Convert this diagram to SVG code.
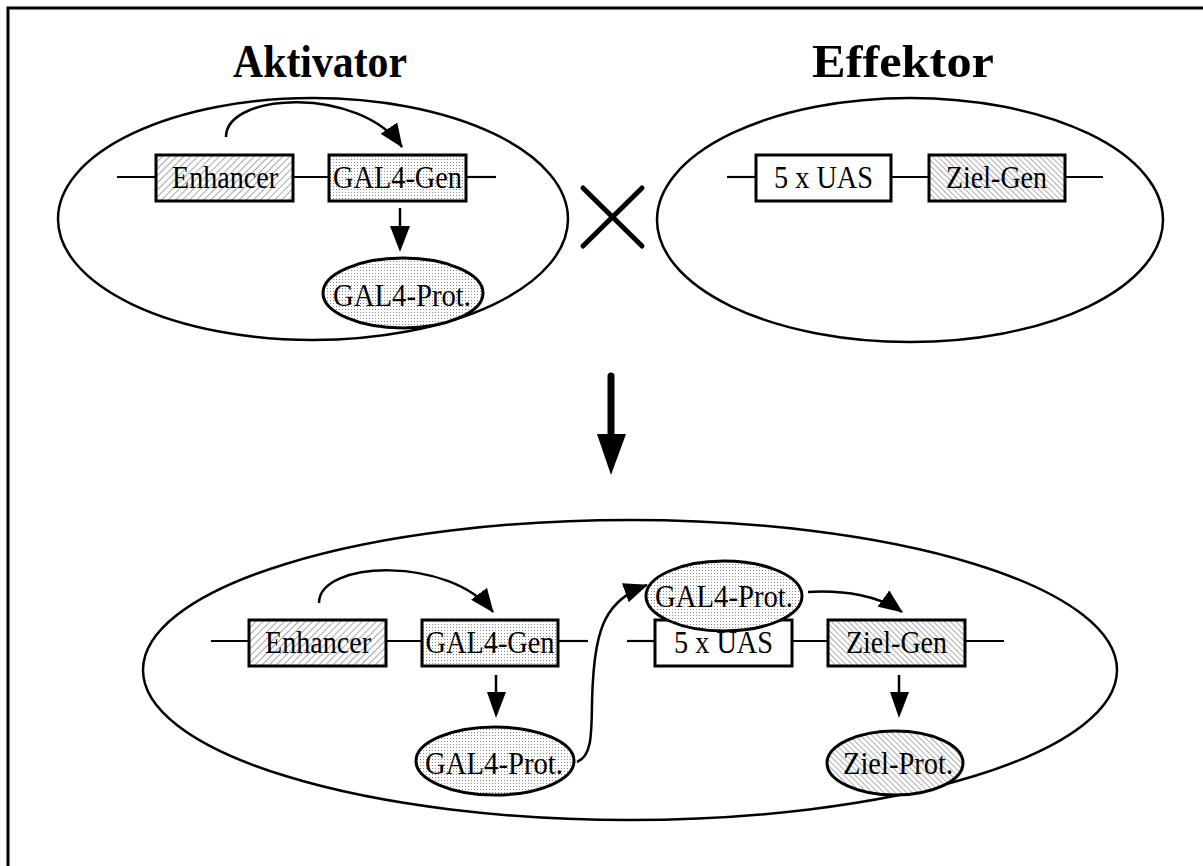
<svg xmlns="http://www.w3.org/2000/svg" width="1203" height="866" viewBox="0 0 1203 866">
<defs>
<pattern id="hatchF" width="5" height="5" patternUnits="userSpaceOnUse" patternTransform="rotate(45)">
<rect width="5" height="5" fill="#fff"/>
<line x1="0" y1="0" x2="0" y2="5" stroke="#777" stroke-width="1.3"/>
</pattern>
<pattern id="hatchB" width="4" height="4" patternUnits="userSpaceOnUse" patternTransform="rotate(-45)">
<rect width="4" height="4" fill="#fff"/>
<line x1="0" y1="0" x2="0" y2="4" stroke="#777" stroke-width="1.2"/>
</pattern>
<pattern id="dots" width="3" height="3" patternUnits="userSpaceOnUse">
<rect width="3" height="3" fill="#fff"/>
<rect x="0" y="0" width="1" height="1" fill="#888"/>
</pattern>
<marker id="ah" viewBox="0 0 24 20" refX="23" refY="10" markerWidth="24" markerHeight="20" markerUnits="userSpaceOnUse" orient="auto">
<path d="M0,0 L24,10 L0,20 z" fill="#000"/>
</marker>
</defs>
<style>
.cell{fill:#fff;stroke:#000;stroke-width:2.5}
.box{stroke:#000;stroke-width:3}
.dna{stroke:#000;stroke-width:2.2;fill:none}
.lbl{font-family:"Liberation Serif","Times New Roman",serif;font-size:32px;text-anchor:middle;fill:#000}
.title{font-family:"Liberation Serif","Times New Roman",serif;font-size:47px;font-weight:bold;text-anchor:middle;fill:#000}
.con{stroke:#000;stroke-width:2.5;fill:none}
</style>
<rect x="8" y="8" width="1220" height="900" fill="#fff" stroke="#000" stroke-width="3"/>

<g id="aktivator">
<ellipse class="cell" cx="313" cy="219" rx="255" ry="121"/>
<text class="title" x="320" y="77" textLength="174" lengthAdjust="spacingAndGlyphs">Aktivator</text>
<line class="dna" x1="117" y1="177" x2="156" y2="177"/>
<line class="dna" x1="293" y1="177" x2="329" y2="177"/>
<line class="dna" x1="466" y1="177" x2="496" y2="177"/>
<g id="a-enhancer"><rect class="box" x="156" y="155" width="137" height="46" fill="url(#hatchF)"/><text class="lbl" x="225" y="188" textLength="106" lengthAdjust="spacingAndGlyphs">Enhancer</text></g>
<g id="a-gal4gen"><rect class="box" x="329" y="155" width="137" height="46" fill="url(#dots)"/><text class="lbl" x="397.5" y="188" textLength="129" lengthAdjust="spacingAndGlyphs">GAL4-Gen</text></g>
<g id="a-gal4prot"><ellipse class="box" cx="403" cy="293" rx="80" ry="35" fill="url(#dots)"/><text class="lbl" x="402" y="306" textLength="138" lengthAdjust="spacingAndGlyphs">GAL4-Prot.</text></g>
</g>

<g id="effektor">
<ellipse class="cell" cx="910" cy="220" rx="253" ry="122"/>
<text class="title" x="903" y="77" textLength="182" lengthAdjust="spacingAndGlyphs">Effektor</text>
<line class="dna" x1="727" y1="177" x2="756" y2="177"/>
<line class="dna" x1="891" y1="177" x2="929" y2="177"/>
<line class="dna" x1="1065" y1="177" x2="1103" y2="177"/>
<g id="e-uas"><rect class="box" x="756" y="155" width="135" height="46" fill="#fff"/><text class="lbl" x="823.5" y="188" textLength="99" lengthAdjust="spacingAndGlyphs">5 x UAS</text></g>
<g id="e-zielgen"><rect class="box" x="929" y="155" width="136" height="46" fill="url(#hatchB)"/><text class="lbl" x="996.5" y="188" textLength="101" lengthAdjust="spacingAndGlyphs">Ziel-Gen</text></g>
</g>

<g id="cross">
<line x1="583" y1="188" x2="642" y2="246" stroke="#000" stroke-width="5" stroke-linecap="round"/>
<line x1="642" y1="188" x2="583" y2="246" stroke="#000" stroke-width="5" stroke-linecap="round"/>
</g>

<g id="result">
<ellipse class="cell" cx="630" cy="670" rx="487" ry="150"/>
<line class="dna" x1="211" y1="641" x2="249" y2="641"/>
<line class="dna" x1="386" y1="641" x2="422" y2="641"/>
<line class="dna" x1="558" y1="641" x2="588" y2="641"/>
<line class="dna" x1="627" y1="641" x2="655" y2="641"/>
<line class="dna" x1="792" y1="641" x2="828" y2="641"/>
<line class="dna" x1="965" y1="641" x2="1004" y2="641"/>
<g id="r-enhancer"><rect class="box" x="249" y="620" width="137" height="46" fill="url(#hatchF)"/><text class="lbl" x="318" y="653" textLength="106" lengthAdjust="spacingAndGlyphs">Enhancer</text></g>
<g id="r-gal4gen"><rect class="box" x="422" y="620" width="136" height="46" fill="url(#dots)"/><text class="lbl" x="490" y="653" textLength="129" lengthAdjust="spacingAndGlyphs">GAL4-Gen</text></g>
<g id="r-gal4prot"><ellipse class="box" cx="495" cy="761" rx="79" ry="34" fill="url(#dots)"/><text class="lbl" x="494" y="774" textLength="138" lengthAdjust="spacingAndGlyphs">GAL4-Prot.</text></g>
<g id="r-uas"><rect class="box" x="655" y="620" width="137" height="46" fill="#fff"/><text class="lbl" x="723.5" y="653" textLength="99" lengthAdjust="spacingAndGlyphs">5 x UAS</text></g>
<g id="r-gal4prot2"><ellipse class="box" cx="724" cy="596" rx="78" ry="35" fill="url(#dots)"/><text class="lbl" x="724" y="607" textLength="138" lengthAdjust="spacingAndGlyphs">GAL4-Prot.</text></g>
<g id="r-zielgen"><rect class="box" x="828" y="620" width="137" height="46" fill="url(#hatchB)"/><text class="lbl" x="896.5" y="653" textLength="101" lengthAdjust="spacingAndGlyphs">Ziel-Gen</text></g>
<g id="r-zielprot"><ellipse class="box" cx="895" cy="763" rx="68" ry="32" fill="url(#hatchB)"/><text class="lbl" x="898" y="774" textLength="110" lengthAdjust="spacingAndGlyphs">Ziel-Prot.</text></g>
</g>

<g id="connectors">
<path class="con" d="M226,137 C226,92 360,86 402,147" marker-end="url(#ah)"/>
<line class="con" x1="400" y1="208" x2="400" y2="230"/>
<polygon points="390,226 410,226 400,252" fill="#000"/>
<line x1="611" y1="376" x2="611" y2="440" stroke="#000" stroke-width="7" stroke-linecap="round"/>
<polygon points="597,434 626,434 611,475" fill="#000"/>
<path class="con" d="M319,603 C319,560 450,556 493,612" marker-end="url(#ah)"/>
<line class="con" x1="496" y1="675" x2="496" y2="696"/>
<polygon points="487,692 506,692 496,718" fill="#000"/>
<path class="con" d="M577,762 C596,755 590,720 593,680 C596,630 605,600 647,585" marker-end="url(#ah)"/>
<path class="con" d="M808,592 C845,590 880,596 902,612" marker-end="url(#ah)"/>
<line class="con" x1="899" y1="675" x2="899" y2="696"/>
<polygon points="890,692 909,692 899,718" fill="#000"/>
</g>
</svg>
